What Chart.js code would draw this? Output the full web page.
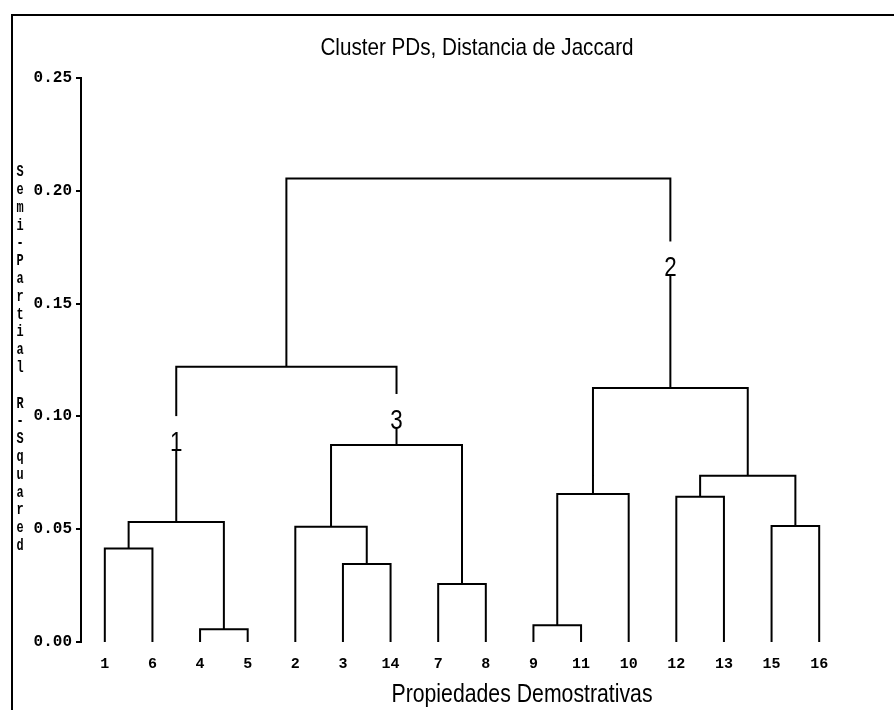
<!DOCTYPE html>
<html>
<head>
<meta charset="utf-8">
<title>Cluster PDs, Distancia de Jaccard</title>
<script src="https://cdn.jsdelivr.net/npm/chart.js@4.4.1/dist/chart.umd.min.js"></script>
<style>
  html, body { margin: 0; padding: 0; background: #fff; }
  #wrap { width: 894px; height: 710px; }
</style>
</head>
<body>
<div id="wrap"><canvas id="dendro" width="894" height="710"></canvas></div>
<script>
// leaves in the order they appear along the x axis
const leafLabels = ['1', '6', '4', '5', '2', '3', '14', '7', '8', '9', '11', '10', '12', '13', '15', '16'];

// merge steps: children are leaf positions 0..15, or 16 + index of an earlier merge
const mergeLeft   = [2, 9, 7, 5, 0, 4, 14, 20, 12, 17, 24, 21, 25, 23, 29];
const mergeRight  = [3, 10, 8, 6, 1, 19, 15, 16, 13, 11, 22, 18, 26, 27, 28];
const mergeHeight = [0.0056, 0.0074, 0.0257, 0.0346, 0.0414, 0.0511, 0.0514, 0.0532,
                     0.0644, 0.0656, 0.0737, 0.0873, 0.1126, 0.1220, 0.2055];

const yTickValues = [0, 0.05, 0.10, 0.15, 0.20, 0.25];

// cluster numbers written on the branches
const clusterLabels = ['1', '3', '2'];
const clusterNode   = [23, 27, 28];
const clusterLabelY = [0.0926, 0.1024, 0.170];

const chartTitle = 'Cluster PDs, Distancia de Jaccard';
const xTitle = 'Propiedades Demostrativas';
const yTitle = 'Semi-Partial R-Squared';

// node positions: leaves first, then every merged cluster at the middle of its children
const nodeX = leafLabels.map((_, i) => i);
const nodeY = leafLabels.map(() => 0);
mergeLeft.forEach((l, k) => {
    const r = mergeRight[k];
    nodeX.push((nodeX[l] + nodeX[r]) / 2);
    nodeY.push(mergeHeight[k]);
});

// one bracket per merge: down to left child, across, down to right child
const datasets = mergeLeft.map((l, k) => {
    const r = mergeRight[k];
    const h = mergeHeight[k];
    return {
        data: [
            { x: nodeX[l], y: nodeY[l] },
            { x: nodeX[l], y: h },
            { x: nodeX[r], y: h },
            { x: nodeX[r], y: nodeY[r] }
        ],
        borderColor: '#000',
        borderWidth: 2,
        pointRadius: 0,
        fill: false,
        tension: 0
    };
});

const sansFont = "'Liberation Sans', Arial, sans-serif";
const monoFont = "'Liberation Mono', 'DejaVu Sans Mono', monospace";

// white page, frame, titles and cluster numbers
const decor = {
    id: 'decor',
    beforeDraw(chart) {
        const ctx = chart.ctx;
        ctx.save();
        ctx.fillStyle = '#fff';
        ctx.fillRect(0, 0, chart.width, chart.height);
        ctx.strokeStyle = '#000';
        ctx.lineWidth = 2;
        ctx.beginPath();
        ctx.moveTo(12, chart.height);
        ctx.lineTo(12, 15);
        ctx.lineTo(chart.width, 15);
        ctx.stroke();
        ctx.restore();
    },
    afterDatasetsDraw(chart) {
        const { ctx, scales: { x, y } } = chart;
        ctx.save();
        ctx.fillStyle = '#000';

        // narrow sans text, like the scanned original
        const narrowText = (text, px, py, size, sx) => {
            ctx.save();
            ctx.font = size + 'px ' + sansFont;
            ctx.translate(px, py);
            ctx.scale(sx, 1);
            ctx.fillText(text, 0, 0);
            ctx.restore();
        };

        ctx.textAlign = 'center';
        ctx.textBaseline = 'alphabetic';
        narrowText(chartTitle, 477, 55, 24, 0.86);
        narrowText(xTitle, 522, 702, 25, 0.85);

        // stacked vertical axis title
        ctx.font = 'bold 17px ' + monoFont;
        ctx.textBaseline = 'middle';
        yTitle.split('').forEach((c, i) => {
            ctx.save();
            ctx.translate(20, 172 + i * 17.8);
            ctx.scale(0.7, 1);
            ctx.fillText(c, 0, 0);
            ctx.restore();
        });

        // cluster numbers with a white gap in the branch
        clusterLabels.forEach((t, i) => {
            const px = x.getPixelForValue(nodeX[clusterNode[i]]);
            const py = y.getPixelForValue(clusterLabelY[i]);
            ctx.fillStyle = '#fff';
            ctx.fillRect(px - 9, py - 17, 18, 34);
            ctx.fillStyle = '#000';
            narrowText(t, px, py + 10, 28, 0.8);
        });
        ctx.restore();
    }
};

Chart.defaults.color = '#000';

new Chart(document.getElementById('dendro'), {
    type: 'line',
    data: { datasets: datasets },
    options: {
        responsive: false,
        animation: false,
        events: [],
        layout: { padding: { left: 0, right: 51, top: 78, bottom: 0 } },
        plugins: {
            legend: { display: false },
            title: { display: false },
            tooltip: { enabled: false }
        },
        scales: {
            x: {
                type: 'linear',
                min: -0.5,
                max: 15.5,
                grid: { display: false, drawTicks: false },
                border: { display: false },
                afterBuildTicks: scale => {
                    scale.ticks = leafLabels.map((_, i) => ({ value: i }));
                },
                afterFit: scale => { scale.height = 68; },
                ticks: {
                    autoSkip: false,
                    maxRotation: 0,
                    padding: 13,
                    font: { family: monoFont, size: 15, weight: 'bold' },
                    callback: value => leafLabels[value]
                }
            },
            y: {
                type: 'linear',
                min: 0,
                max: 0.25,
                grid: {
                    drawOnChartArea: false,
                    drawTicks: true,
                    tickLength: 5,
                    color: '#000',
                    lineWidth: 2
                },
                border: { display: true, color: '#000', width: 2 },
                afterBuildTicks: scale => {
                    scale.ticks = yTickValues.map(v => ({ value: v }));
                },
                afterFit: scale => { scale.width = 81; },
                ticks: {
                    padding: 4,
                    font: { family: monoFont, size: 16, weight: 'bold' },
                    callback: value => value.toFixed(2)
                }
            }
        }
    },
    plugins: [decor]
});
</script>
</body>
</html>
